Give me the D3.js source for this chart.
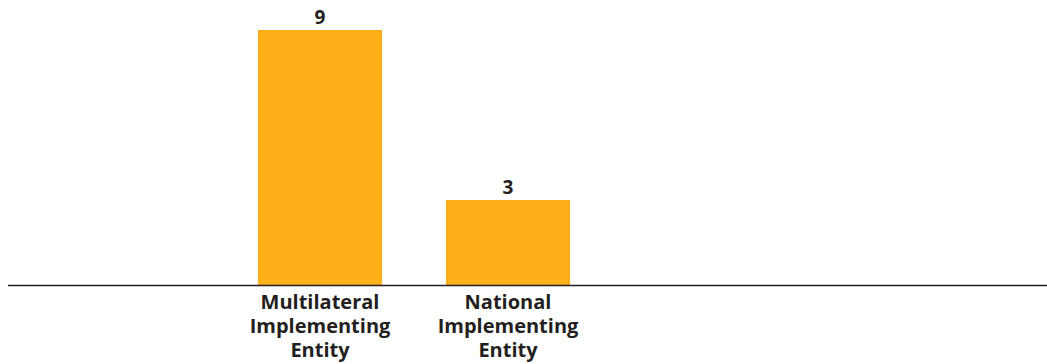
<!DOCTYPE html>
<html>
<head>
<meta charset="utf-8">
<script src="https://cdn.jsdelivr.net/npm/d3@7"></script>
<style>
  body { margin: 0; background: #fff; }
  text { font-family: "Open Sans", sans-serif; font-weight: 700; fill: #231f20; }
</style>
</head>
<body>
<div id="chart"></div>
<script>
  // data
  const categories = ['Multilateral Implementing Entity', 'National Implementing Entity']
  const values = [9, 3]

  // sizes
  const width = 1047
  const height = 364
  const baseline = 285

  const svg = d3.select('#chart')
    .append('svg')
    .attr('width', width)
    .attr('height', height)

  const x = d3.scaleBand()
    .domain(categories)
    .range([226, 602])
    .paddingInner(0.34)
    .paddingOuter(0.17)

  const y = d3.scaleLinear()
    .domain([0, 9])
    .range([baseline, 30])

  // bars
  svg.append('g')
    .selectAll('rect')
    .data(values)
    .enter().append('rect')
    .attr('x', (d, i) => x(categories[i]))
    .attr('y', d => y(d))
    .attr('width', x.bandwidth())
    .attr('height', d => baseline - y(d))
    .style('fill', '#fdb01a')

  // value labels
  svg.append('g')
    .selectAll('text')
    .data(values)
    .enter().append('text')
    .attr('x', (d, i) => x(categories[i]) + x.bandwidth() / 2)
    .attr('y', d => y(d) - 6)
    .attr('text-anchor', 'middle')
    .style('font-size', '19px')
    .text(d => d)

  // baseline
  svg.append('line')
    .attr('x1', 8)
    .attr('x2', width)
    .attr('y1', baseline + 0.5)
    .attr('y2', baseline + 0.5)
    .style('stroke', '#231f20')
    .style('stroke-width', 1.3)

  // category labels, one word per line
  const labels = svg.append('g')
    .selectAll('text')
    .data(categories)
    .enter().append('text')
    .attr('text-anchor', 'middle')
    .attr('x', d => x(d) + x.bandwidth() / 2)
    .attr('y', 309)
    .style('font-size', '20px')

  labels.selectAll('tspan')
    .data(d => d.split(' '))
    .enter().append('tspan')
    .attr('x', function () { return d3.select(this.parentNode).attr('x') })
    .attr('dy', (d, i) => i === 0 ? 0 : 24)
    .text(d => d)
</script>
</body>
</html>
